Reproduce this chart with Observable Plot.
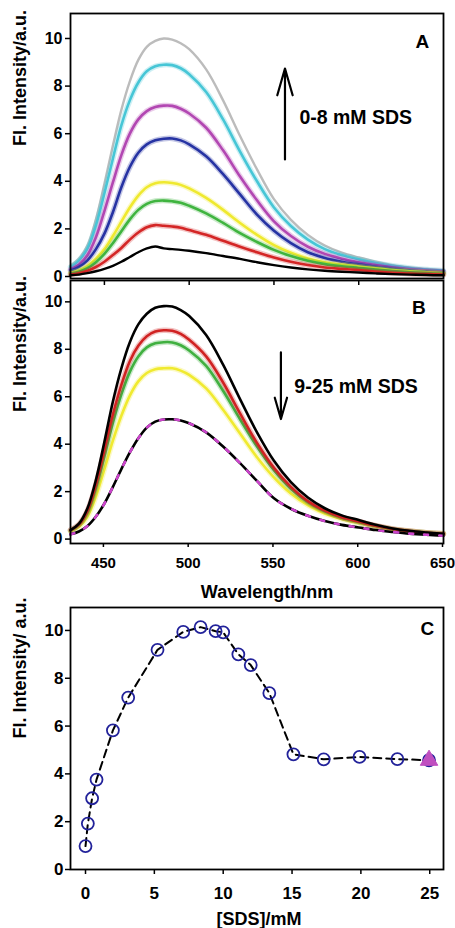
<!DOCTYPE html>
<html><head><meta charset="utf-8">
<script src="https://cdn.jsdelivr.net/npm/d3@7"></script>
<script src="https://cdn.jsdelivr.net/npm/@observablehq/plot@0.6"></script>
<style>
body{margin:0;background:#fff;}
#chart svg{display:block;}
</style>
</head><body><div id="chart"></div>
<script>
// ---- Data ----
const wavelength = [430,435,440,445,450,455,460,465,470,475,480,485,490,495,500,510,520,530,540,550,560,570,580,590,600,610,620,630,640,650];

// Panel A (0-8 mM SDS)
const aGray    = [0.45,0.75,1.3,2.4,3.9,5.5,7.0,8.2,9.1,9.65,9.9,10.0,9.95,9.8,9.55,8.7,7.4,5.9,4.5,3.25,2.38,1.75,1.3,1.0,0.8,0.62,0.48,0.38,0.32,0.27];
const aCyan    = [0.4,0.68,1.18,2.15,3.5,4.95,6.35,7.4,8.15,8.62,8.83,8.9,8.88,8.75,8.5,7.75,6.6,5.25,4.0,2.9,2.12,1.55,1.15,0.9,0.72,0.57,0.45,0.36,0.29,0.24];
const aMagenta = [0.3,0.5,0.9,1.65,2.75,3.95,5.1,6.0,6.6,6.95,7.12,7.18,7.17,7.05,6.85,6.25,5.3,4.2,3.2,2.32,1.7,1.25,0.95,0.75,0.6,0.48,0.38,0.3,0.25,0.21];
const aBlue    = [0.25,0.4,0.68,1.15,1.8,2.7,3.75,4.6,5.2,5.55,5.72,5.79,5.8,5.72,5.55,5.05,4.3,3.45,2.6,1.92,1.4,1.02,0.78,0.62,0.51,0.41,0.33,0.26,0.21,0.18];
const aYellow  = [0.15,0.25,0.45,0.75,1.15,1.7,2.3,2.9,3.4,3.75,3.92,3.96,3.93,3.85,3.7,3.3,2.8,2.25,1.75,1.32,1.0,0.76,0.6,0.5,0.42,0.34,0.27,0.22,0.18,0.14];
const aGreen   = [0.12,0.2,0.35,0.6,0.95,1.4,1.9,2.4,2.8,3.05,3.17,3.19,3.16,3.1,2.97,2.65,2.25,1.82,1.45,1.12,0.86,0.66,0.52,0.43,0.36,0.29,0.23,0.18,0.14,0.11];
const aRed     = [0.08,0.14,0.24,0.4,0.62,0.9,1.2,1.55,1.85,2.07,2.16,2.13,2.1,2.05,1.95,1.75,1.5,1.25,1.02,0.8,0.62,0.48,0.38,0.32,0.27,0.21,0.16,0.12,0.1,0.08];
const aBlack   = [0.05,0.08,0.14,0.22,0.32,0.45,0.62,0.82,1.02,1.18,1.26,1.18,1.15,1.12,1.08,0.98,0.86,0.74,0.6,0.48,0.38,0.3,0.24,0.2,0.17,0.13,0.1,0.08,0.06,0.05];

// Panel B (9-25 mM SDS)
const bBlack  = [0.38,0.65,1.3,2.5,4.1,5.8,7.2,8.3,9.05,9.5,9.75,9.82,9.8,9.65,9.4,8.6,7.35,5.9,4.5,3.3,2.4,1.75,1.3,1.0,0.8,0.6,0.45,0.35,0.28,0.22];
const bRed    = [0.38,0.62,1.2,2.3,3.75,5.25,6.5,7.5,8.15,8.55,8.75,8.8,8.78,8.65,8.4,7.7,6.6,5.3,4.05,3.0,2.2,1.6,1.2,0.92,0.74,0.56,0.43,0.34,0.27,0.22];
const bGreen  = [0.36,0.6,1.12,2.15,3.5,4.9,6.1,7.05,7.7,8.08,8.25,8.3,8.29,8.17,7.95,7.3,6.25,5.05,3.9,2.9,2.12,1.56,1.17,0.9,0.72,0.55,0.42,0.33,0.27,0.22];
const bYellow = [0.33,0.52,0.95,1.8,2.95,4.15,5.2,6.05,6.65,7.0,7.16,7.2,7.2,7.1,6.92,6.35,5.45,4.45,3.45,2.6,1.92,1.43,1.08,0.85,0.68,0.53,0.41,0.33,0.27,0.22];
const bLow    = [0.2,0.32,0.55,0.95,1.5,2.2,2.95,3.65,4.25,4.7,4.95,5.04,5.05,5.0,4.88,4.5,3.9,3.2,2.45,1.72,1.28,0.98,0.76,0.6,0.49,0.38,0.3,0.23,0.18,0.14];

// Panel C
const sds       = [0,0.17,0.48,0.8,1.99,3.1,5.23,7.1,8.36,9.45,10.0,11.1,12.0,13.35,15.1,17.3,19.9,22.65,24.95];
const intensity = [0.98,1.92,2.98,3.76,5.82,7.19,9.19,9.94,10.14,9.97,9.92,9.0,8.55,7.38,4.82,4.61,4.71,4.62,4.57];
const lastSds = [24.95], lastIntensity = [4.57];

// Ticks & labels
const wlTicks = [450,500,550,600,650];
const yTicks = [0,2,4,6,8,10];
const sdsTicks = [0,5,10,15,20,25];
const yTitleAB = "Fl. Intensity/a.u.";
const yTitleC = "Fl. Intensity/ a.u.";
const xTitleB = "Wavelength/nm";
const xTitleC = "[SDS]/mM";
const noteA = "0-8 mM SDS", noteB = "9-25 mM SDS";
const noteAPos = [565, 6.39], noteBPos = [562, 6.17];
const arrowAPos = [556.5, 4.92, 8.74];   // x, y from, y to
const arrowBPos = [554.1, 7.87, 5.06];
const panelLabels = [["A", 637.5, 9.62], ["B", 635.5, 9.49], ["C", 24.83, 9.79]];

// ---- Helpers ----
const FONT = "'Liberation Sans', Arial, Helvetica, sans-serif";
const rows = (vals) => wavelength.map((w, i) => ({w, v: vals[i]}));
const curve = "catmull-rom";
function spectrum(vals, color, glow = true, width = 2.6) {
  const d = rows(vals);
  const marks = [];
  if (glow) marks.push(Plot.line(d, {x: "w", y: "v", stroke: color, strokeWidth: 5.5, strokeOpacity: 0.28, curve}));
  marks.push(Plot.line(d, {x: "w", y: "v", stroke: color, strokeWidth: width, curve}));
  return marks;
}
const style = {fontFamily: FONT, fontSize: "16px", fontWeight: "bold", background: "white", color: "black", overflow: "visible"};
const yTitle = (t) => Plot.text([t], {frameAnchor: "left", rotate: -90, dx: -50, fontSize: 18, fontWeight: "bold", fill: "black"});

// ---- Panel A ----
const plotA = Plot.plot({
  width: 455, height: 279,
  marginLeft: 70, marginRight: 12, marginTop: 13, marginBottom: 1,
  style,
  x: {domain: [430, 650], axis: null},
  y: {domain: [-0.084, 11.05], axis: null},
  marks: [
    ...spectrum(aGray, "#bcbcbc", false, 2.4),
    ...spectrum(aCyan, "#47c6d6"),
    ...spectrum(aMagenta, "#b247b2"),
    ...spectrum(aBlue, "#2633a3"),
    ...spectrum(aYellow, "#efe92f"),
    ...spectrum(aGreen, "#3fb43f"),
    ...spectrum(aRed, "#d42626"),
    ...spectrum(aBlack, "#000000", false, 2.4),
    Plot.axisY(yTicks, {tickSize: 5, tickPadding: 3, label: null, fontSize: 16, strokeWidth: 1.5}),
    Plot.arrow([arrowAPos], {x1: d => d[0], x2: d => d[0], y1: d => d[1], y2: d => d[2], stroke: "black", strokeWidth: 2.2, headLength: 19, headAngle: 32}),
    Plot.text([noteA], {x: noteAPos[0], y: noteAPos[1], textAnchor: "start", lineAnchor: "bottom", fontSize: 19.5, fontWeight: "bold", fill: "black"}),
    Plot.text([panelLabels[0]], {x: d => d[1], y: d => d[2], text: d => d[0], lineAnchor: "bottom", fontSize: 19, fontWeight: "bold", fill: "black"}),
    yTitle(yTitleAB),
    Plot.frame({stroke: "black", strokeWidth: 1.8})
  ]
});

// ---- Panel B ----
const plotB = Plot.plot({
  width: 455, height: 326,
  marginLeft: 70, marginRight: 12, marginTop: 1, marginBottom: 62,
  style,
  x: {domain: [430, 650], axis: null},
  y: {domain: [-0.186, 10.9], axis: null},
  marks: [
    ...spectrum(bYellow, "#f0ea30"),
    ...spectrum(bGreen, "#40b040"),
    ...spectrum(bRed, "#d02222"),
    ...spectrum(bBlack, "#000000", false, 2.6),
    ...spectrum(bLow, "#000000", false, 2.6),
    Plot.line(rows(bLow), {x: "w", y: "v", stroke: "#cc44cc", strokeWidth: 2.6, strokeDasharray: "4,11", curve}),
    Plot.axisY(yTicks, {tickSize: 5, tickPadding: 3, label: null, fontSize: 16, strokeWidth: 1.5}),
    Plot.axisX(wlTicks, {anchor: "bottom", tickSize: 4, tickPadding: 10, label: null, fontSize: 15, dx: -1, strokeWidth: 1.5}),
    Plot.tickX(wlTicks.slice(0, 4), {x: d => d, insetBottom: 258, stroke: "black", strokeWidth: 1.5}),
    Plot.arrow([arrowBPos], {x1: d => d[0], x2: d => d[0], y1: d => d[1], y2: d => d[2], stroke: "black", strokeWidth: 2.2, headLength: 19, headAngle: 32}),
    Plot.text([noteB], {x: noteBPos[0], y: noteBPos[1], textAnchor: "start", lineAnchor: "bottom", fontSize: 19.5, fontWeight: "bold", fill: "black"}),
    Plot.text([panelLabels[1]], {x: d => d[1], y: d => d[2], text: d => d[0], lineAnchor: "bottom", fontSize: 19, fontWeight: "bold", fill: "black"}),
    yTitle(yTitleAB),
    Plot.text([xTitleB], {frameAnchor: "bottom", dx: 10, dy: 54, fontSize: 18, fontWeight: "bold", fill: "black"}),
    Plot.frame({stroke: "black", strokeWidth: 1.8})
  ]
});

// ---- Panel C ----
const cData = sds.map((x, i) => ({x, y: intensity[i]}));
const plotC = Plot.plot({
  width: 455, height: 323,
  marginLeft: 70, marginRight: 12, marginTop: 2, marginBottom: 59,
  style,
  x: {domain: [-1.09, 26.0], axis: null},
  y: {domain: [0, 10.96], axis: null},
  marks: [
    Plot.line(cData, {x: "x", y: "y", stroke: "black", strokeWidth: 2, strokeDasharray: "8,5"}),
    Plot.dot(cData, {x: "x", y: "y", r: 6, stroke: "#22229a", strokeWidth: 1.8, fill: "none"}),
    Plot.dot(lastSds.map((x, i) => ({x, y: lastIntensity[i]})), {x: "x", y: "y", symbol: "triangle", r: 6.5, fill: "#c04fc0", stroke: "#c04fc0", strokeWidth: 1}),
    Plot.axisY(yTicks, {tickSize: 5, tickPadding: 2, label: null, fontSize: 17, strokeWidth: 1.5}),
    Plot.axisX(sdsTicks, {anchor: "bottom", tickSize: 5, tickPadding: 12, label: null, fontSize: 17, strokeWidth: 1.5}),
    Plot.text([panelLabels[2]], {x: d => d[1], y: d => d[2], text: d => d[0], lineAnchor: "bottom", fontSize: 19, fontWeight: "bold", fill: "black"}),
    yTitle(yTitleC),
    Plot.text([xTitleC], {frameAnchor: "bottom", dx: 2, dy: 55, fontSize: 18, fontWeight: "bold", fill: "black"}),
    Plot.frame({stroke: "black", strokeWidth: 1.8})
  ]
});

const el = document.getElementById("chart");
el.append(plotA, plotB, plotC);
</script>
</body></html>
